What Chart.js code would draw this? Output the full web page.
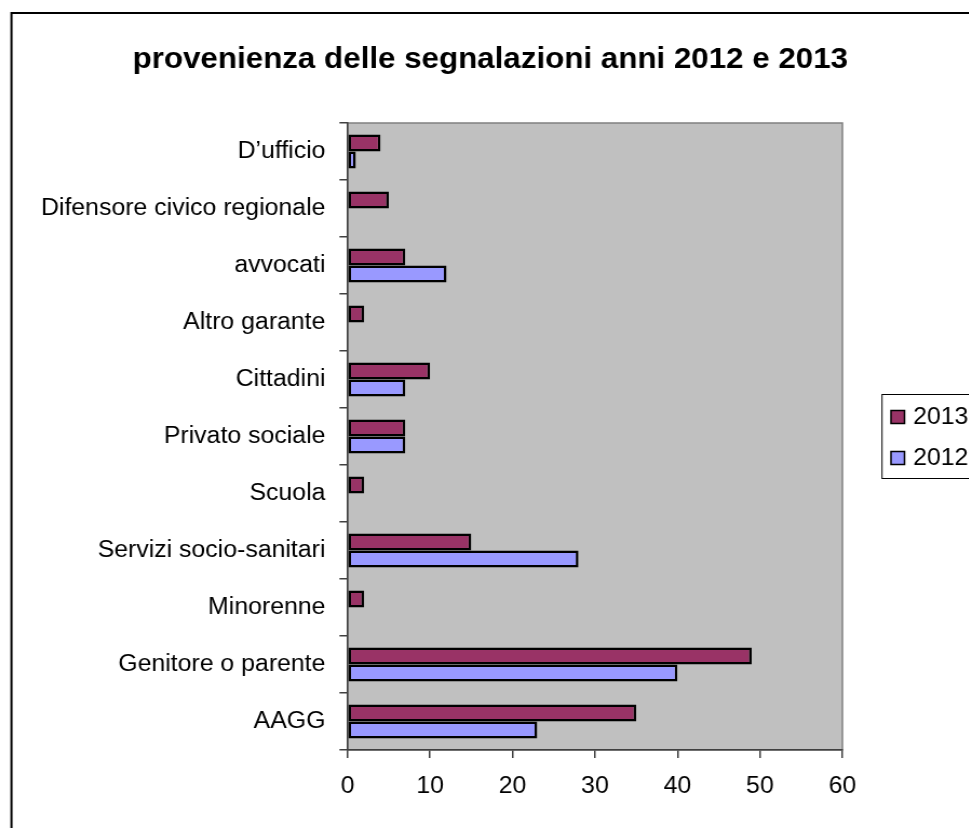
<!DOCTYPE html>
<html>
<head>
<meta charset="utf-8">
<script src="https://cdn.jsdelivr.net/npm/chart.js@4/dist/chart.umd.min.js"></script>
<style>
  html, body { margin: 0; padding: 0; background: #fff; overflow: hidden; }
  #wrap { width: 898px; height: 828px; transform: scaleX(1.08); transform-origin: 0 0; }
</style>
</head>
<body>
<div id="wrap"><canvas id="c" width="898" height="828"></canvas></div>
<script>
const titleText = "provenienza delle segnalazioni anni 2012 e 2013";
const categories = ["D\u2019ufficio", "Difensore civico regionale", "avvocati", "Altro garante", "Cittadini", "Privato sociale", "Scuola", "Servizi socio-sanitari", "Minorenne", "Genitore o parente", "AAGG"];
const seriesLabels = ["2013", "2012"];
const values2013 = [4, 5, 7, 2, 10, 7, 2, 15, 2, 49, 35];
const values2012 = [1, 0, 12, 0, 7, 7, 0, 28, 0, 40, 23];
const xMin = 0, xMax = 60, xStep = 10;
const colors = ["#993366", "#9999FF"];

const FONT = "'Liberation Sans', Arial, sans-serif";
Chart.defaults.font.family = FONT;
Chart.defaults.font.size = 23;
Chart.defaults.color = "#000";

const framePlugin = {
  id: "frame",
  beforeDraw(chart) {
    const ctx = chart.ctx, a = chart.chartArea;
    ctx.save();
    ctx.fillStyle = "#fff";
    ctx.fillRect(0, 0, chart.width, chart.height);
    ctx.strokeStyle = "#000";
    ctx.lineWidth = 2;
    ctx.strokeRect(10.6, 13, chart.width + 20, chart.height + 20);
    ctx.fillStyle = "#C0C0C0";
    ctx.fillRect(a.left, a.top, a.right - a.left, a.bottom - a.top);
    ctx.strokeStyle = "#808080";
    ctx.lineWidth = 1.5;
    ctx.strokeRect(a.left, a.top, a.right - a.left, a.bottom - a.top);
    ctx.restore();
  },
  afterDraw(chart) {
    const ctx = chart.ctx;
    ctx.save();
    ctx.fillStyle = "#000";
    ctx.font = "bold 29px " + FONT;
    ctx.textAlign = "center";
    ctx.textBaseline = "middle";
    ctx.fillText(titleText, 454, 60);
    ctx.strokeStyle = "#000";
    ctx.lineWidth = 1;
    ctx.strokeRect(816.7, 394.5, 120, 84);
    ctx.font = "23px " + FONT;
    ctx.textAlign = "left";
    chart.data.datasets.forEach((ds, i) => {
      const cy = 417 + i * 41;
      ctx.fillStyle = ds.backgroundColor;
      ctx.fillRect(825, cy - 6.5, 12.5, 13);
      ctx.lineWidth = 1.5;
      ctx.strokeRect(825, cy - 6.5, 12.5, 13);
      ctx.fillStyle = "#000";
      ctx.fillText(ds.label, 845.4, cy + 1);
    });
    ctx.restore();
  }
};

new Chart(document.getElementById("c"), {
  type: "bar",
  data: {
    labels: categories,
    datasets: [
      { label: seriesLabels[0], data: values2013, backgroundColor: colors[0], borderColor: "#000", borderWidth: 2.5, borderSkipped: false },
      { label: seriesLabels[1], data: values2012, backgroundColor: colors[1], borderColor: "#000", borderWidth: 2.5, borderSkipped: false }
    ]
  },
  options: {
    indexAxis: "y",
    responsive: false,
    animation: false,
    devicePixelRatio: 1,
    categoryPercentage: 0.6,
    barPercentage: 1.0,
    layout: { padding: { left: 0, right: 118, top: 123, bottom: 0 } },
    plugins: { legend: { display: false }, title: { display: false }, tooltip: { enabled: false } },
    scales: {
      y: {
        type: "category",
        offset: true,
        grid: { offset: true, drawOnChartArea: false, drawTicks: true, tickLength: 7.5, color: "#404040", lineWidth: 1.5 },
        border: { display: true, color: "#404040", width: 1.5 },
        ticks: { padding: 13, color: "#000", font: { size: 23 } },
        afterFit(scale) { scale.width = 321.8; }
      },
      x: {
        min: xMin, max: xMax,
        grid: { drawOnChartArea: false, drawTicks: true, tickLength: 8, color: "#404040", lineWidth: 1.5 },
        border: { display: true, color: "#404040", width: 1.5 },
        ticks: { stepSize: xStep, padding: 15, color: "#000", font: { size: 23 }, maxRotation: 0 },
        afterFit(scale) { scale.height = 78; }
      }
    }
  },
  plugins: [framePlugin]
});
</script>
</body>
</html>
